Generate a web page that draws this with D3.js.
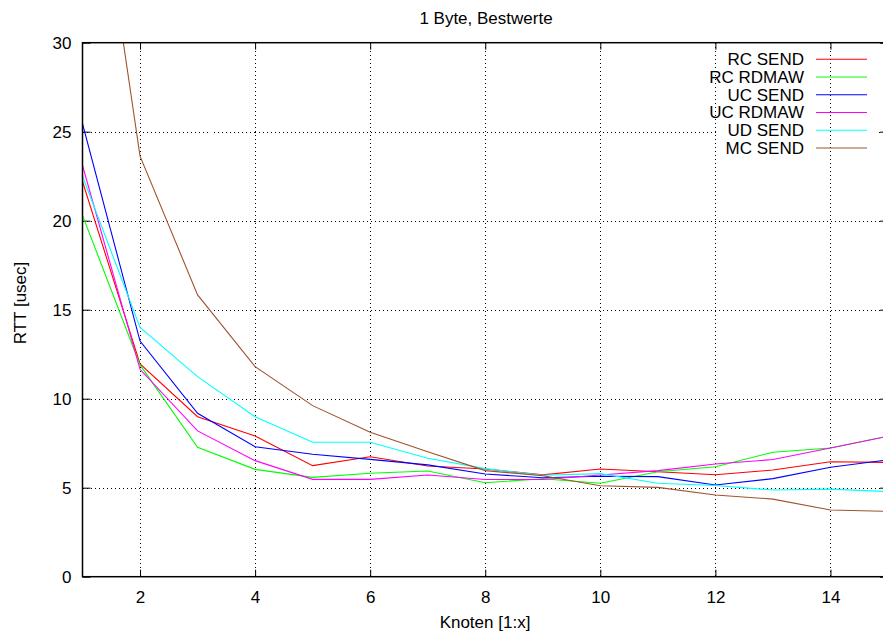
<!DOCTYPE html>
<html>
<head>
<meta charset="utf-8">
<script src="https://cdn.jsdelivr.net/npm/d3@7"></script>
<style>
  html, body { margin: 0; padding: 0; background: #fff; overflow: hidden; }
  svg { display: block; font-family: "Liberation Sans", Arial, sans-serif; }
  .grid line { stroke: #000; stroke-width: 1; stroke-dasharray: 1,3; shape-rendering: crispEdges; }
  .axis text { font-size: 17px; fill: #000; font-family: "Liberation Sans", Arial, sans-serif; }
  .axis line { stroke: #000; stroke-width: 1; }
</style>
</head>
<body>
<svg id="chart" width="883" height="638"></svg>
<script>
// Number of nodes (Knoten 1:x)
const nodes = [1, 2, 3, 4, 5, 6, 7, 8, 9, 10, 11, 12, 13, 14, 15];

// Round-trip times in microseconds, best values, 1 byte messages
const rcSend  = [22.2, 11.95, 8.99, 7.90, 6.24, 6.74, 6.22, 6.05, 5.72, 6.05, 5.90, 5.73, 5.99, 6.46, 6.42];
const rcRdmaw = [20.3, 11.90, 7.27, 6.03, 5.58, 5.81, 5.94, 5.28, 5.50, 5.25, 5.90, 6.18, 6.99, 7.23, 7.89];
const ucSend  = [25.45, 13.24, 9.18, 7.30, 6.88, 6.59, 6.28, 5.77, 5.56, 5.64, 5.62, 5.15, 5.51, 6.15, 6.56];
const ucRdmaw = [23.1, 11.65, 8.19, 6.52, 5.47, 5.47, 5.71, 5.46, 5.46, 5.71, 5.96, 6.33, 6.58, 7.23, 7.89];
const udSend  = [22.5, 14.01, 11.24, 8.99, 7.55, 7.55, 6.65, 6.07, 5.70, 5.79, 5.25, 5.12, 4.87, 4.92, 4.78];
const mcSend  = [45.6, 23.63, 15.83, 11.80, 9.61, 8.11, 7.02, 5.96, 5.67, 5.11, 5.02, 4.59, 4.36, 3.75, 3.67];

const seriesNames  = ["RC SEND", "RC RDMAW", "UC SEND", "UC RDMAW", "UD SEND", "MC SEND"];
const seriesValues = [rcSend, rcRdmaw, ucSend, ucRdmaw, udSend, mcSend];
const seriesColors = ["#ff0000", "#00ff00", "#0000ff", "#ff00ff", "#00ffff", "#a0522d"];

const xTicks = [2, 4, 6, 8, 10, 12, 14];
const yTicks = [0, 5, 10, 15, 20, 25, 30];

const titleText  = "1 Byte, Bestwerte";
const xLabelText = "Knoten [1:x]";
const yLabelText = "RTT [usec]";

// Plot frame (right edge runs past the canvas edge)
const plotLeft = 82.5, plotRight = 888, plotTop = 42.7, plotBottom = 576.7;

const svg = d3.select("#chart");

const x = d3.scaleLinear().domain([1, 15]).range([plotLeft, plotRight]);
const y = d3.scaleLinear().domain([0, 30]).range([plotBottom, plotTop]);

// Horizontal dotted grid lines
const grid = svg.append("g").attr("class", "grid");
grid.selectAll("line.gy")
  .data(yTicks.filter(v => v > 0 && v < 30))
  .join("line")
  .attr("class", "gy")
  .attr("y1", d => Math.round(y(d)) + 0.5).attr("y2", d => Math.round(y(d)) + 0.5)
  .attr("x1", plotLeft).attr("x2", plotRight);

// Key area blanks the horizontal grid behind it
svg.append("rect")
  .attr("x", 717).attr("y", 50)
  .attr("width", 162).attr("height", 107)
  .attr("fill", "#fff");

// Vertical dotted grid lines
const gridV = svg.append("g").attr("class", "grid");
gridV.selectAll("line.gx")
  .data(xTicks)
  .join("line")
  .attr("class", "gx")
  .attr("x1", d => Math.round(x(d)) + 0.5).attr("x2", d => Math.round(x(d)) + 0.5)
  .attr("y1", plotTop).attr("y2", plotBottom);

// Axes with inward tics on all four sides
const axB = svg.append("g").attr("class", "axis")
  .attr("transform", `translate(0,${plotBottom})`)
  .call(d3.axisBottom(x).tickValues(xTicks).tickSize(-7).tickPadding(14).tickFormat(d3.format("d")));
const axT = svg.append("g").attr("class", "axis")
  .attr("transform", `translate(0,${plotTop})`)
  .call(d3.axisTop(x).tickValues(xTicks).tickSize(-7).tickFormat(""));
const axL = svg.append("g").attr("class", "axis")
  .attr("transform", `translate(${plotLeft},0)`)
  .call(d3.axisLeft(y).tickValues(yTicks).tickSize(-8).tickPadding(11).tickFormat(d3.format("d")));
const axR = svg.append("g").attr("class", "axis")
  .attr("transform", `translate(${plotRight},0)`)
  .call(d3.axisRight(y).tickValues(yTicks).tickSize(-8).tickFormat(""));
[axB, axT, axL, axR].forEach(a => a.select(".domain").remove());

// Clip the curves to the plot area
svg.append("clipPath").attr("id", "plotClip")
  .append("rect")
  .attr("x", plotLeft).attr("y", plotTop)
  .attr("width", plotRight - plotLeft).attr("height", plotBottom - plotTop);

const line = d3.line()
  .x((d, i) => x(nodes[i]))
  .y(d => y(d));

svg.append("g").attr("clip-path", "url(#plotClip)")
  .selectAll("path")
  .data(seriesValues)
  .join("path")
  .attr("d", d => line(d))
  .attr("fill", "none")
  .attr("stroke", (d, i) => seriesColors[i])
  .attr("stroke-width", 1.1);

// Frame border
svg.append("rect")
  .attr("x", plotLeft).attr("y", plotTop)
  .attr("width", plotRight - plotLeft).attr("height", plotBottom - plotTop)
  .attr("fill", "none").attr("stroke", "#000").attr("stroke-width", 1.5);

// Title and axis labels
svg.append("text")
  .attr("x", 486).attr("y", 24)
  .attr("text-anchor", "middle").attr("font-size", 17)
  .text(titleText);

svg.append("text")
  .attr("x", 485).attr("y", 628)
  .attr("text-anchor", "middle").attr("font-size", 17)
  .text(xLabelText);

svg.append("text")
  .attr("transform", "translate(26,303) rotate(-90)")
  .attr("text-anchor", "middle").attr("font-size", 17)
  .text(yLabelText);

// Key in the upper right corner
const legend = svg.append("g");
const rowY = i => 59.3 + i * 17.74;
seriesNames.forEach((name, i) => {
  legend.append("text")
    .attr("x", 804).attr("y", rowY(i)).attr("dy", "0.35em")
    .attr("text-anchor", "end").attr("font-size", 17)
    .text(name);
  legend.append("line")
    .attr("x1", 816).attr("x2", 867)
    .attr("y1", rowY(i)).attr("y2", rowY(i))
    .attr("stroke", seriesColors[i]).attr("stroke-width", 1.1);
});
</script>
</body>
</html>
